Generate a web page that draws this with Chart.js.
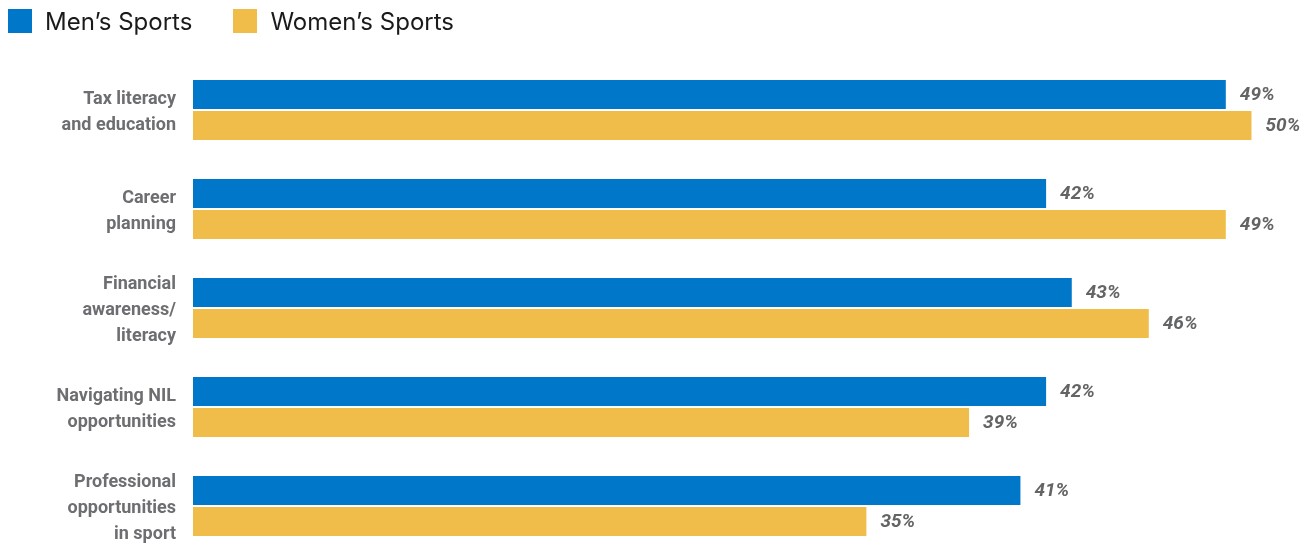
<!DOCTYPE html>
<html>
<head>
<meta charset="utf-8">
<script src="https://cdn.jsdelivr.net/npm/chart.js@4.4.1/dist/chart.umd.min.js"></script>
<style>
    html, body { margin: 0; padding: 0; background: #fff; }
    #wrap { position: relative; width: 1310px; height: 546px; }
    #legend { position: absolute; left: 8px; top: 9px; display: flex; font-family: Inter, 'Open Sans', sans-serif; font-size: 24px; color: #1a1a1a; }
    .item { display: flex; align-items: center; margin-right: 41px; height: 24px; }
    .swatch { width: 24px; height: 24px; margin-right: 13px; }
</style>
</head>
<body>
<div id="wrap">
    <canvas id="chart" width="1310" height="546"></canvas>
    <div id="legend"></div>
</div>
<script>
const categories = [
    ['Tax literacy', 'and education'],
    ['Career', 'planning'],
    ['Financial', 'awareness/', 'literacy'],
    ['Navigating NIL', 'opportunities'],
    ['Professional', 'opportunities', 'in sport']
];
const seriesNames = ['Men\u2019s Sports', 'Women\u2019s Sports'];
const mensValues = [49, 42, 43, 42, 41];
const womensValues = [50, 49, 46, 39, 35];
const seriesColors = ['#0077c8', '#f0bd4a'];

// Legend (HTML)
const legend = document.getElementById('legend');
seriesNames.forEach((name, i) => {
    const item = document.createElement('div');
    item.className = 'item';
    item.innerHTML = `<span class="swatch" style="background:${seriesColors[i]}"></span><span>${name}</span>`;
    legend.appendChild(item);
});

// Value labels at bar ends
const valueLabels = {
    id: 'valueLabels',
    afterDatasetsDraw(chart) {
        const ctx = chart.ctx;
        ctx.save();
        ctx.font = 'italic bold 19px Roboto, sans-serif';
        ctx.fillStyle = '#636466';
        ctx.textAlign = 'left';
        ctx.textBaseline = 'middle';
        chart.data.datasets.forEach((ds, di) => {
            chart.getDatasetMeta(di).data.forEach((bar, i) => {
                ctx.fillText(ds.data[i] + '%', bar.x + 14, bar.y + 1);
            });
        });
        ctx.restore();
    }
};

// clip only on the left, bars may overflow top/bottom of the chart area
const barClip = { left: 0, top: false, right: false, bottom: false };

new Chart(document.getElementById('chart'), {
    type: 'bar',
    data: {
        labels: categories,
        datasets: [
            {
                label: seriesNames[0],
                data: mensValues,
                backgroundColor: seriesColors[0],
                categoryPercentage: 0.6263,
                barPercentage: 0.9355,
                clip: barClip
            },
            {
                label: seriesNames[1],
                data: womensValues,
                backgroundColor: seriesColors[1],
                categoryPercentage: 0.6263,
                barPercentage: 0.9355,
                clip: barClip
            }
        ]
    },
    options: {
        indexAxis: 'y',
        responsive: false,
        animation: false,
        layout: { padding: { top: 110, bottom: 40, left: 0, right: 10 } },
        plugins: {
            legend: { display: false },
            tooltip: { enabled: false }
        },
        scales: {
            x: {
                display: false,
                min: 8.77,
                max: 51.89
            },
            y: {
                offset: false,
                grid: { display: false, drawTicks: false },
                border: { display: false },
                ticks: {
                    padding: 17,
                    labelOffset: 2.5,
                    color: '#6d6e71',
                    font: { family: 'Roboto, sans-serif', size: 18, weight: 'bold', lineHeight: 1.43 }
                },
                afterFit(scale) {
                    scale.width = 193;
                    scale.paddingTop = 0;
                    scale.paddingBottom = 0;
                }
            }
        }
    },
    plugins: [valueLabels]
});
</script>
</body>
</html>
